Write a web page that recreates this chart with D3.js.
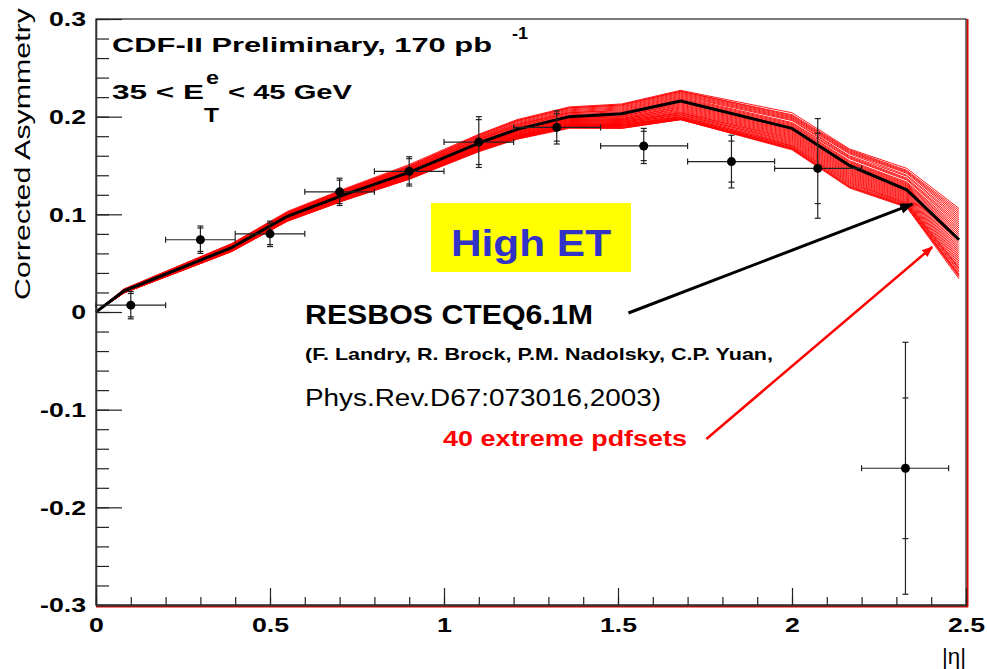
<!DOCTYPE html>
<html>
<head>
<meta charset="utf-8">
<script src="https://cdn.jsdelivr.net/npm/d3@7"></script>
<style>
  body { margin: 0; background: #fff; }
  text { font-family: 'Liberation Sans', Arial, sans-serif; }
</style>
</head>
<body>
<svg id="chart" width="987" height="669"></svg>
<script>
// measured data points
const etaCenter = [0.1, 0.3, 0.5, 0.7, 0.9, 1.1, 1.324, 1.574, 1.826, 2.074, 2.326]
const etaLow = [0, 0.2, 0.4, 0.6, 0.8, 1.0, 1.2, 1.45, 1.7, 1.95, 2.2]
const etaHigh = [0.2, 0.4, 0.6, 0.8, 1.0, 1.2, 1.45, 1.7, 1.95, 2.2, 2.45]
const asym = [0.007, 0.074, 0.080, 0.123, 0.144, 0.174, 0.189, 0.170, 0.154, 0.147, -0.160]
const errStat = [0.012, 0.012, 0.011, 0.012, 0.013, 0.023, 0.014, 0.015, 0.021, 0.036, 0.072]
const errTot = [0.014, 0.014, 0.013, 0.014, 0.015, 0.026, 0.017, 0.018, 0.027, 0.051, 0.129]

// RESBOS CTEQ6.1M central prediction
const etaKnots = [0, 0.08, 0.39, 0.55, 0.72, 0.9, 1.1, 1.21, 1.36, 1.51, 1.68, 2.0, 2.165, 2.33, 2.48]
const resbosAsym = [0, 0.0215, 0.066, 0.098, 0.121, 0.143, 0.173, 0.187, 0.200, 0.203, 0.216, 0.188, 0.150, 0.125, 0.074]

// 40 extreme pdf sets, deviation from central (x 0.001) at etaKnots[1..]
const pdfDev = [
  [2, 4, 5, 6, 8, 9, 10, 10, 10, 11, 16, 17, 22, 32],
  [2, 4, 4, 5, 7, 8, 9, 9, 9, 10, 14, 16, 20, 30],
  [1, 3, 4, 5, 6, 8, 9, 9, 9, 10, 13, 15, 19, 28],
  [1, 3, 4, 5, 6, 7, 8, 8, 8, 9, 12, 14, 18, 26],
  [1, 3, 3, 4, 5, 6, 7, 7, 7, 8, 11, 13, 17, 24],
  [1, 2, 3, 4, 5, 6, 6, 6, 6, 7, 10, 12, 15, 22],
  [1, 2, 3, 3, 4, 5, 5, 5, 5, 6, 9, 10, 14, 20],
  [1, 2, 2, 3, 4, 4, 5, 4, 4, 5, 8, 9, 12, 18],
  [1, 2, 2, 3, 3, 4, 4, 4, 3, 4, 6, 8, 11, 16],
  [0, 1, 2, 2, 3, 3, 3, 3, 2, 3, 5, 7, 10, 14],
  [0, 1, 1, 2, 2, 3, 3, 2, 1, 2, 4, 5, 8, 12],
  [0, 1, 1, 1, 2, 2, 2, 1, 0, 1, 3, 4, 7, 10],
  [0, 1, 1, 1, 1, 1, 1, 0, -1, 0, 2, 3, 6, 8],
  [0, 0, 0, 1, 1, 1, 0, -1, -2, -1, 1, 2, 5, 6],
  [0, 0, 0, 0, 0, 0, 0, -1, -3, -2, 0, 1, 4, 4],
  [0, 0, 0, 0, 0, -1, -1, -2, -3, -3, -1, 0, 3, 2],
  [0, 0, 0, 0, -1, -1, -1, -2, -4, -4, -2, -1, 2, 0],
  [0, 0, -1, -1, -1, -2, -2, -3, -5, -5, -3, -2, 1, -2],
  [0, -1, -1, -1, -1, -2, -2, -3, -5, -6, -4, -3, 0, -4],
  [0, -1, -1, -1, -2, -2, -3, -4, -6, -7, -5, -4, -1, -6],
  [0, -1, -1, -2, -2, -3, -3, -4, -6, -8, -6, -5, -2, -8],
  [-1, -1, -1, -2, -2, -3, -4, -5, -7, -9, -7, -6, -3, -10],
  [-1, -1, -2, -2, -3, -3, -4, -5, -7, -10, -8, -7, -4, -12],
  [-1, -1, -2, -2, -3, -4, -5, -6, -8, -11, -9, -8, -5, -14],
  [-1, -2, -2, -3, -3, -4, -5, -6, -8, -12, -10, -9, -6, -16],
  [-1, -2, -2, -3, -4, -5, -6, -7, -9, -12, -11, -10, -7, -18],
  [-1, -2, -3, -3, -4, -5, -6, -7, -9, -13, -12, -11, -8, -20],
  [-1, -2, -3, -3, -4, -5, -6, -8, -10, -14, -13, -12, -9, -22],
  [-1, -2, -3, -4, -4, -6, -7, -8, -10, -14, -14, -13, -10, -24],
  [-1, -2, -3, -4, -5, -6, -7, -8, -11, -15, -15, -14, -11, -26],
  [-1, -3, -3, -4, -5, -6, -7, -9, -11, -16, -16, -15, -12, -28],
  [-1, -3, -3, -4, -5, -7, -8, -9, -12, -16, -17, -16, -13, -29],
  [-1, -3, -4, -4, -5, -7, -8, -9, -12, -17, -18, -17, -14, -30],
  [-2, -3, -4, -5, -6, -7, -8, -10, -12, -17, -18, -18, -14, -32],
  [-2, -3, -4, -5, -6, -7, -9, -10, -13, -18, -19, -19, -15, -33],
  [-2, -3, -4, -5, -6, -8, -9, -10, -13, -18, -20, -20, -16, -35],
  [-2, -4, -4, -5, -6, -8, -9, -11, -14, -18, -20, -21, -16, -36],
  [-2, -4, -5, -5, -7, -8, -9, -11, -14, -19, -21, -22, -17, -37],
  [-2, -4, -5, -6, -7, -8, -10, -11, -15, -19, -21, -22, -17, -38],
  [-2, -4, -5, -6, -7, -9, -10, -12, -15, -19, -22, -23, -18, -40]
]

const xTicks = [0, 0.5, 1, 1.5, 2, 2.5]
const xTickLabels = ['0', '0.5', '1', '1.5', '2', '2.5']
const yTicks = [-0.3, -0.2, -0.1, 0, 0.1, 0.2, 0.3]
const yTickLabels = ['-0.3', '-0.2', '-0.1', '0', '0.1', '0.2', '0.3']

// arrows, in data coords: [x1, y1, x2, y2]
const resbosArrow = [1.53, -0.001, 2.346, 0.1105]
const pdfArrow = [1.754, -0.130, 2.403, 0.0665]

const svg = d3.select('#chart')
const frame = { left: 96, right: 966, top: 19, bottom: 605 }
const HSTRETCH = 1.27

const xScale = d3.scaleLinear().domain([0, 2.5]).range([frame.left, frame.right])
const yScale = d3.scaleLinear().domain([-0.3, 0.3]).range([frame.bottom, frame.top])

function stretch(sel, k) {
  sel.each(function () {
    const w = this.getComputedTextLength()
    d3.select(this).attr('textLength', w * k).attr('lengthAdjust', 'spacingAndGlyphs')
  })
}

svg.append('rect').attr('width', 987).attr('height', 669).attr('fill', '#fff')

// frame: red pad edges right/bottom, dark frame
svg.append('line')
  .attr('x1', frame.right + 1.5).attr('x2', frame.right + 1.5)
  .attr('y1', frame.top).attr('y2', frame.bottom + 2)
  .attr('stroke', '#e00000').attr('stroke-width', 2)
svg.append('line')
  .attr('x1', frame.left).attr('x2', frame.right + 2)
  .attr('y1', frame.bottom + 1.5).attr('y2', frame.bottom + 1.5)
  .attr('stroke', '#e00000').attr('stroke-width', 2)
svg.append('rect')
  .attr('x', frame.left).attr('y', frame.top)
  .attr('width', frame.right - frame.left).attr('height', frame.bottom - frame.top)
  .attr('fill', 'none').attr('stroke', '#333').attr('stroke-width', 1.3)

// curves
const linegen = d3.line()
  .x((d, i) => xScale(etaKnots[i]))
  .y(d => yScale(d))
  .curve(d3.curveLinear)

const curves = svg.append('g')
pdfDev.forEach(row => {
  const vals = [0].concat(row).map((dv, i) => resbosAsym[i] + dv / 1000)
  curves.append('path')
    .attr('d', linegen(vals))
    .attr('fill', 'none')
    .attr('stroke', '#ff0000')
    .attr('stroke-width', 0.9)
})
curves.append('path')
  .attr('d', linegen(resbosAsym))
  .attr('fill', 'none')
  .attr('stroke', '#000')
  .attr('stroke-width', 3)
  .attr('stroke-linejoin', 'round')

// axes
const yMajor = d3.axisLeft(yScale).tickValues(yTicks)
  .tickFormat((d, i) => yTickLabels[i]).tickSizeInner(-26).tickSizeOuter(0).tickPadding(10)
const yMinor = d3.axisLeft(yScale).tickValues(d3.range(-0.3, 0.301, 0.02))
  .tickFormat('').tickSizeInner(-13).tickSizeOuter(0)
const xMajor = d3.axisBottom(xScale).tickValues(xTicks)
  .tickFormat((d, i) => xTickLabels[i]).tickSizeInner(-17).tickSizeOuter(0).tickPadding(12)
const xMinor = d3.axisBottom(xScale).tickValues(d3.range(0, 2.501, 0.1))
  .tickFormat('').tickSizeInner(-8).tickSizeOuter(0)

const gy = svg.append('g').attr('transform', `translate(${frame.left},0)`)
gy.call(yMinor)
gy.append('g').call(yMajor)
const gx = svg.append('g').attr('transform', `translate(0,${frame.bottom})`)
gx.call(xMinor)
gx.append('g').call(xMajor)

svg.selectAll('.domain').attr('stroke', '#333').attr('stroke-width', 1.3)
svg.selectAll('.tick line').attr('stroke', '#222').attr('stroke-width', 1.2)
svg.selectAll('.tick text')
  .attr('font-family', "'Liberation Sans', Arial, sans-serif")
  .attr('font-size', 21).attr('font-weight', 'bold').attr('fill', '#000')
  .call(stretch, HSTRETCH)

// data points with stat and total errors
const pts = svg.append('g').attr('stroke', '#222').attr('stroke-width', 1.2)
etaCenter.forEach((e, i) => {
  const cx = xScale(e), cy = yScale(asym[i])
  const xl = xScale(etaLow[i]), xh = xScale(etaHigh[i])
  pts.append('line').attr('x1', xl).attr('x2', xh).attr('y1', cy).attr('y2', cy)
  ;[xl, xh].forEach(x => pts.append('line').attr('x1', x).attr('x2', x).attr('y1', cy - 3).attr('y2', cy + 3))
  const yt = yScale(asym[i] + errTot[i]), yb = yScale(asym[i] - errTot[i])
  pts.append('line').attr('x1', cx).attr('x2', cx).attr('y1', yt).attr('y2', yb)
  ;[errTot[i], -errTot[i], errStat[i], -errStat[i]].forEach(er => {
    const yy = yScale(asym[i] + er)
    pts.append('line').attr('x1', cx - 3).attr('x2', cx + 3).attr('y1', yy).attr('y2', yy)
  })
  pts.append('circle').attr('cx', cx).attr('cy', cy).attr('r', 4.5).attr('fill', '#000').attr('stroke', 'none')
})

// arrows
const defs = svg.append('defs')
function marker(id, color) {
  defs.append('marker').attr('id', id).attr('viewBox', '0 0 10 10')
    .attr('refX', 9).attr('refY', 5).attr('markerWidth', 4.5).attr('markerHeight', 4.5)
    .attr('orient', 'auto')
    .append('path').attr('d', 'M0,1 L10,5 L0,9 Z').attr('fill', color)
}
marker('headBlack', '#000')
marker('headRed', '#ff0000')
svg.append('line')
  .attr('x1', xScale(resbosArrow[0])).attr('y1', yScale(resbosArrow[1]))
  .attr('x2', xScale(resbosArrow[2])).attr('y2', yScale(resbosArrow[3]))
  .attr('stroke', '#000').attr('stroke-width', 3).attr('marker-end', 'url(#headBlack)')
svg.append('line')
  .attr('x1', xScale(pdfArrow[0])).attr('y1', yScale(pdfArrow[1]))
  .attr('x2', xScale(pdfArrow[2])).attr('y2', yScale(pdfArrow[3]))
  .attr('stroke', '#ff0000').attr('stroke-width', 2.5).attr('marker-end', 'url(#headRed)')

// labels
function label(txt, x, y, size, weight, width, color) {
  const t = svg.append('text').attr('x', x).attr('y', y)
    .attr('font-size', size).attr('font-weight', weight).attr('fill', color || '#000')
    .text(txt)
  if (width) t.attr('textLength', width).attr('lengthAdjust', 'spacingAndGlyphs')
  return t
}

svg.append('text')
  .attr('transform', 'translate(30,300) rotate(-90)')
  .attr('font-size', 22).attr('fill', '#000')
  .attr('textLength', 292).attr('lengthAdjust', 'spacingAndGlyphs')
  .text('Corrected Asymmetry')

svg.append('text')
  .attr('x', 942).attr('y', 664)
  .attr('font-family', "'Liberation Serif', 'Times New Roman', serif")
  .attr('font-size', 22).attr('fill', '#000')
  .attr('textLength', 24).attr('lengthAdjust', 'spacingAndGlyphs')
  .text('|η|')

label('CDF-II Preliminary, 170 pb', 112, 52, 21, 'bold', 380)
label('-1', 512, 39, 16, 'bold', 16)
label('35 < E', 112, 99, 21, 'bold', 92)
label('e', 206, 84, 19, 'bold', 13)
label('T', 204, 122, 20, 'bold', 15)
label('< 45 GeV', 228, 99, 21, 'bold', 124)

svg.append('rect').attr('x', 431).attr('y', 203).attr('width', 200).attr('height', 69).attr('fill', '#ffff00')
label('High ET', 451, 256, 36, 'bold', 160, '#3232c8')

label('RESBOS CTEQ6.1M', 305, 324, 27, 'bold', 288)
label('(F. Landry, R. Brock, P.M. Nadolsky, C.P. Yuan,', 305, 360, 17, 'bold', 468)
label('Phys.Rev.D67:073016,2003)', 305, 406, 23, 'normal', 356)
label('40 extreme pdfsets', 443, 446, 22, 'bold', 244, '#ff0000')
</script>
</body>
</html>
